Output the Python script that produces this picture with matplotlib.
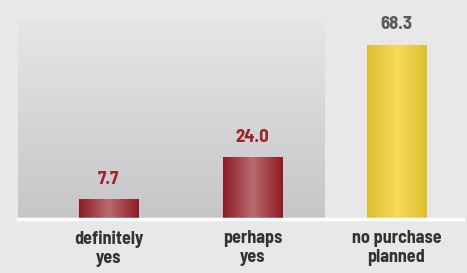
import numpy as np
import matplotlib.pyplot as plt
from matplotlib.colors import LinearSegmentedColormap

categories = ["definitely\nyes", "perhaps\nyes", "no purchase\nplanned"]
values = [7.7, 24.0, 68.3]
value_labels = ["7.7", "24.0", "68.3"]

bg = "#e8e8e8"
red_cmap = LinearSegmentedColormap.from_list("red", ["#8e1a22", "#b86b70"])
yellow_cmap = LinearSegmentedColormap.from_list("yel", ["#dbbf2e", "#f8db5c"])
grey_cmap = LinearSegmentedColormap.from_list("grey", ["#c6c5c8", "#e6e6e7"])
bar_cmaps = [red_cmap, red_cmap, yellow_cmap]
label_colors = ["#a0222a", "#a0222a", "#5a5a5a"]

plt.rcParams['font.family'] = ['Barlow Semi Condensed', 'DejaVu Sans']

fig = plt.figure(figsize=(4.67, 2.73), dpi=100, facecolor=bg)
ax = fig.add_axes([18 / 467, 54 / 273, 445 / 467, 219 / 273])
ax.set_facecolor(bg)
ax.set_xlim(-0.628, 2.462)
ax.set_ylim(0, 86)

# grey gradient panel behind the first two bars
grad = np.linspace(0, 1, 256).reshape(-1, 1)
ax.imshow(grad, cmap=grey_cmap, origin="lower", aspect="auto",
          extent=(-0.628, 1.497, 0, 78.5), zorder=1)

w = 0.41
hgrad = np.concatenate([np.linspace(0, 1, 128), np.linspace(1, 0, 128)]).reshape(1, -1)
for i, v in enumerate(values):
    ax.imshow(hgrad, cmap=bar_cmaps[i], aspect="auto",
              extent=(i - w / 2, i + w / 2, 0, v), zorder=2)
    ax.text(i, v + 4.6, value_labels[i], ha="center", va="bottom",
            fontsize=13.5, fontweight="bold", color=label_colors[i], zorder=3)

ax.axhline(0, color="white", lw=2.5, zorder=4, clip_on=False)

ax.set_xticks(range(len(categories)))
ax.set_xticklabels(categories, fontsize=13, fontweight="bold", color="#333333",
                   linespacing=1.15)
ax.tick_params(axis="x", length=0, pad=8)
ax.set_yticks([])
for s in ax.spines.values():
    s.set_visible(False)

fig.savefig("out.png", dpi=100, facecolor=bg)
